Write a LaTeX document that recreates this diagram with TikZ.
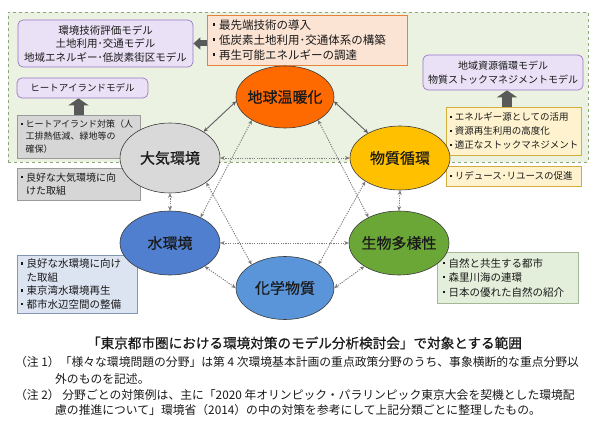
\documentclass[tikz,border=0pt]{standalone}
\usepackage{fontspec}
\setmainfont{Noto Sans CJK JP}
\newfontfamily\medfont{Noto Sans CJK JP}[FakeBold=0.7]
\usetikzlibrary{shapes.geometric,arrows.meta,calc}
\definecolor{regionF}{HTML}{EBF2E2}
\definecolor{regionD}{HTML}{8DA67A}
\definecolor{purpleF}{HTML}{EAE1F6}
\definecolor{purpleD}{HTML}{9878C8}
\definecolor{orangeF}{HTML}{FCE4D4}
\definecolor{orangeD}{HTML}{E8823A}
\definecolor{greyF}{HTML}{D6D6D6}
\definecolor{greyD}{HTML}{9A9A9A}
\definecolor{yellowF}{HTML}{FFF3CF}
\definecolor{yellowD}{HTML}{D4AE3C}
\definecolor{blueF}{HTML}{DCE4F2}
\definecolor{blueD}{HTML}{8395B4}
\definecolor{greenF}{HTML}{E3EFDA}
\definecolor{greenD}{HTML}{A3B896}
\definecolor{gwF}{HTML}{FF6A00}
\definecolor{airF}{HTML}{D9D9D9}
\definecolor{matF}{HTML}{FFC000}
\definecolor{watF}{HTML}{4F7FCE}
\definecolor{chmF}{HTML}{5B95D9}
\definecolor{bioF}{HTML}{6BA737}
\definecolor{ringD}{HTML}{3A3A3A}
\definecolor{solidC}{HTML}{5E5E5E}
\definecolor{dotC}{HTML}{7A7A7A}
\definecolor{blockC}{HTML}{595959}
\definecolor{txt}{HTML}{1A1A1A}
\newcommand{\fs}[2]{\fontsize{#1}{#2}\selectfont}
\newcommand{\bul}{\makebox[0.62em][l]{\hspace{0.06em}\raisebox{0.3em}{\rule{0.22em}{0.22em}}}}
\newcommand{\mdot}{･}
\begin{document}
\begin{tikzpicture}[x=1pt,y=-1pt,
  every node/.style={text=txt},
  region/.style={draw=regionD, fill=regionF, dashed, line width=0.6pt, inner sep=0pt},
  modelbox/.style={draw=purpleD, fill=purpleF, rounded corners=5pt, line width=0.7pt, align=center, inner sep=0pt},
  leftbox/.style={line width=0.7pt, align=left, inner xsep=4pt, inner ysep=0pt},
  ring/.style={ellipse, draw=ringD, line width=0.6pt, inner sep=0pt, font=\medfont\fs{15}{18}},
  solidlink/.style={draw=solidC, line width=0.9pt, {Stealth[length=4.5pt,width=4pt]}-{Stealth[length=4.5pt,width=4pt]}},
  dotlink/.style={draw=dotC, line width=0.9pt, dash pattern=on 1.2pt off 1.2pt, {Stealth[length=4.5pt,width=4pt]}-{Stealth[length=4.5pt,width=4pt]}},
  blockarrow/.style={draw=blockC, line width=#1, -{Triangle[length=7pt,width=2*#1]}},
  note/.style={anchor=west, inner sep=0pt, font=\fs{11.8}{14}}
]
\useasboundingbox (0,0) rectangle (595,428);
\fill[white] (0,0) rectangle (595,428);

% background region
\node[region, minimum width=580, minimum height=150] (region) at (298,87) {};

% model boxes
\node[modelbox, minimum width=175, minimum height=47, font=\fs{10.5}{13.5}] (model1) at (105.5,43.5)
  {環境技術評価モデル\\土地利用\mdot 交通モデル\\地域エネルギー\mdot 低炭素街区モデル};
\node[modelbox, minimum width=131, minimum height=20, font=\fs{9.5}{12}] (himodel) at (82.5,88)
  {ヒートアイランドモデル};
\node[modelbox, minimum width=160, minimum height=35, font=\fs{10}{14}] (rmodel) at (503,72.5)
  {地域資源循環モデル\\物質ストックマネジメントモデル};

% measure boxes
\node[leftbox, draw=orangeD, fill=orangeF, inner xsep=5pt, text width=190, minimum height=50, font=\fs{11.5}{15}] (orange) at (307,40)
  {\bul 最先端技術の導入\\\bul 低炭素土地利用\mdot 交通体系の構築\\\bul 再生可能エネルギーの調達};
\node[leftbox, draw=greyD, fill=greyF, inner xsep=3pt, text width=117, minimum height=43, font=\fs{9}{12.5}] (grey1) at (78.5,136.5)
  {\bul ヒートアイランド対策（人\\\hspace*{0.62em}工排熱低減、緑地等の\\\hspace*{0.62em}確保）};
\node[leftbox, draw=greyD, fill=greyF, inner xsep=3pt, text width=117, minimum height=32, font=\fs{10}{13}] (grey2) at (78.5,184)
  {\bul 良好な大気環境に向\\\hspace*{0.62em}けた取組};
\node[leftbox, draw=yellowD, fill=yellowF, inner xsep=3pt, text width=129, minimum height=48, font=\fs{9.5}{14}] (yellow1) at (513.5,131)
  {\bul エネルギー源としての活用\\\bul 資源再生利用の高度化\\\bul 適正なストックマネジメント};
\node[leftbox, draw=yellowD, fill=yellowF, inner xsep=3pt, text width=129, minimum height=20, font=\fs{9.5}{12}] (yellow2) at (513.5,176)
  {\bul リデュース\mdot リユースの促進};
\node[leftbox, draw=blueD, fill=blueF, inner xsep=3pt, text width=114, minimum height=58, font=\fs{10.5}{13.5}] (bluebox) at (77,284)
  {\bul 良好な水環境に向け\\\hspace*{0.62em}た取組\\\bul 東京湾水環境再生\\\bul 都市水辺空間の整備};
\node[leftbox, draw=greenD, fill=greenF, inner xsep=5pt, text width=131, minimum height=51, font=\fs{10.5}{14.5}] (greenbox) at (507.5,277.5)
  {\bul 自然と共生する都市\\\bul 森里川海の連環\\\bul 日本の優れた自然の紹介};

% block arrows
\draw[blockarrow=6pt] (orange.west |- model1.east) -- (model1.east);
\draw[blockarrow=10pt] (grey1.north) -- (grey1.north |- himodel.south);
\draw[blockarrow=10pt] ($(rmodel.south |- yellow1.north)+(4,0)$) -- ($(rmodel.south)+(4,0)$);

% ellipses
\node[ring, fill=gwF, minimum width=98, minimum height=62] (gw) at (285,97) {\makebox[0pt]{地球温暖化}};
\node[ring, fill=airF, minimum width=100, minimum height=70] (air) at (170,158) {\makebox[0pt]{大気環境}};
\node[ring, fill=matF, minimum width=100, minimum height=64] (mat) at (400,158) {\makebox[0pt]{物質循環}};
\node[ring, fill=watF, minimum width=100, minimum height=64] (wat) at (170,243) {\makebox[0pt]{水環境}};
\node[ring, fill=bioF, minimum width=100, minimum height=64] (bio) at (399,243) {\makebox[0pt]{生物多様性}};
\node[ring, fill=chmF, minimum width=98, minimum height=63] (chm) at (285,288) {\makebox[0pt]{化学物質}};

% connectors
\draw[solidlink] (gw.185) -- (air.38);
\draw[solidlink] (gw.-5) -- (mat.142);
\draw[dotlink] (air.east) -- (mat.west);
\draw[dotlink] (air.south) -- (wat.north);
\draw[dotlink] (mat.south) -- (bio.north);
\draw[dotlink] (wat.east) -- (bio.west);
\draw[dotlink] (wat.-34) -- (chm.180);
\draw[dotlink] (bio.214) -- (chm.0);
\draw[dotlink] (gw.215) -- (wat.40);
\draw[dotlink] (gw.-35) -- (bio.140);
\draw[dotlink] (air.-34) -- (chm.145);
\draw[dotlink] (mat.214) -- (chm.35);

% title and notes
\node[inner sep=0pt, font=\medfont\fs{13.6}{16}] (title) at (304.5,343) {「東京都市圏における環境対策のモデル分析検討会」で対象とする範囲};
\node[note] (n1) at (15,362) {（注 1）「様々な環境問題の分野」は第 4 次環境基本計画の重点政策分野のうち、事象横断的な重点分野以};
\node[note] (n1b) at (55,379) {外のものを記述。};
\node[note] (n2) at (15,395) {（注 2） 分野ごとの対策例は、主に「2020 年オリンピック・パラリンピック東京大会を契機とした環境配};
\node[note] (n2b) at (55,410) {慮の推進について」環境省（2014）の中の対策を参考にして上記分類ごとに整理したもの。};
\end{tikzpicture}
\end{document}
